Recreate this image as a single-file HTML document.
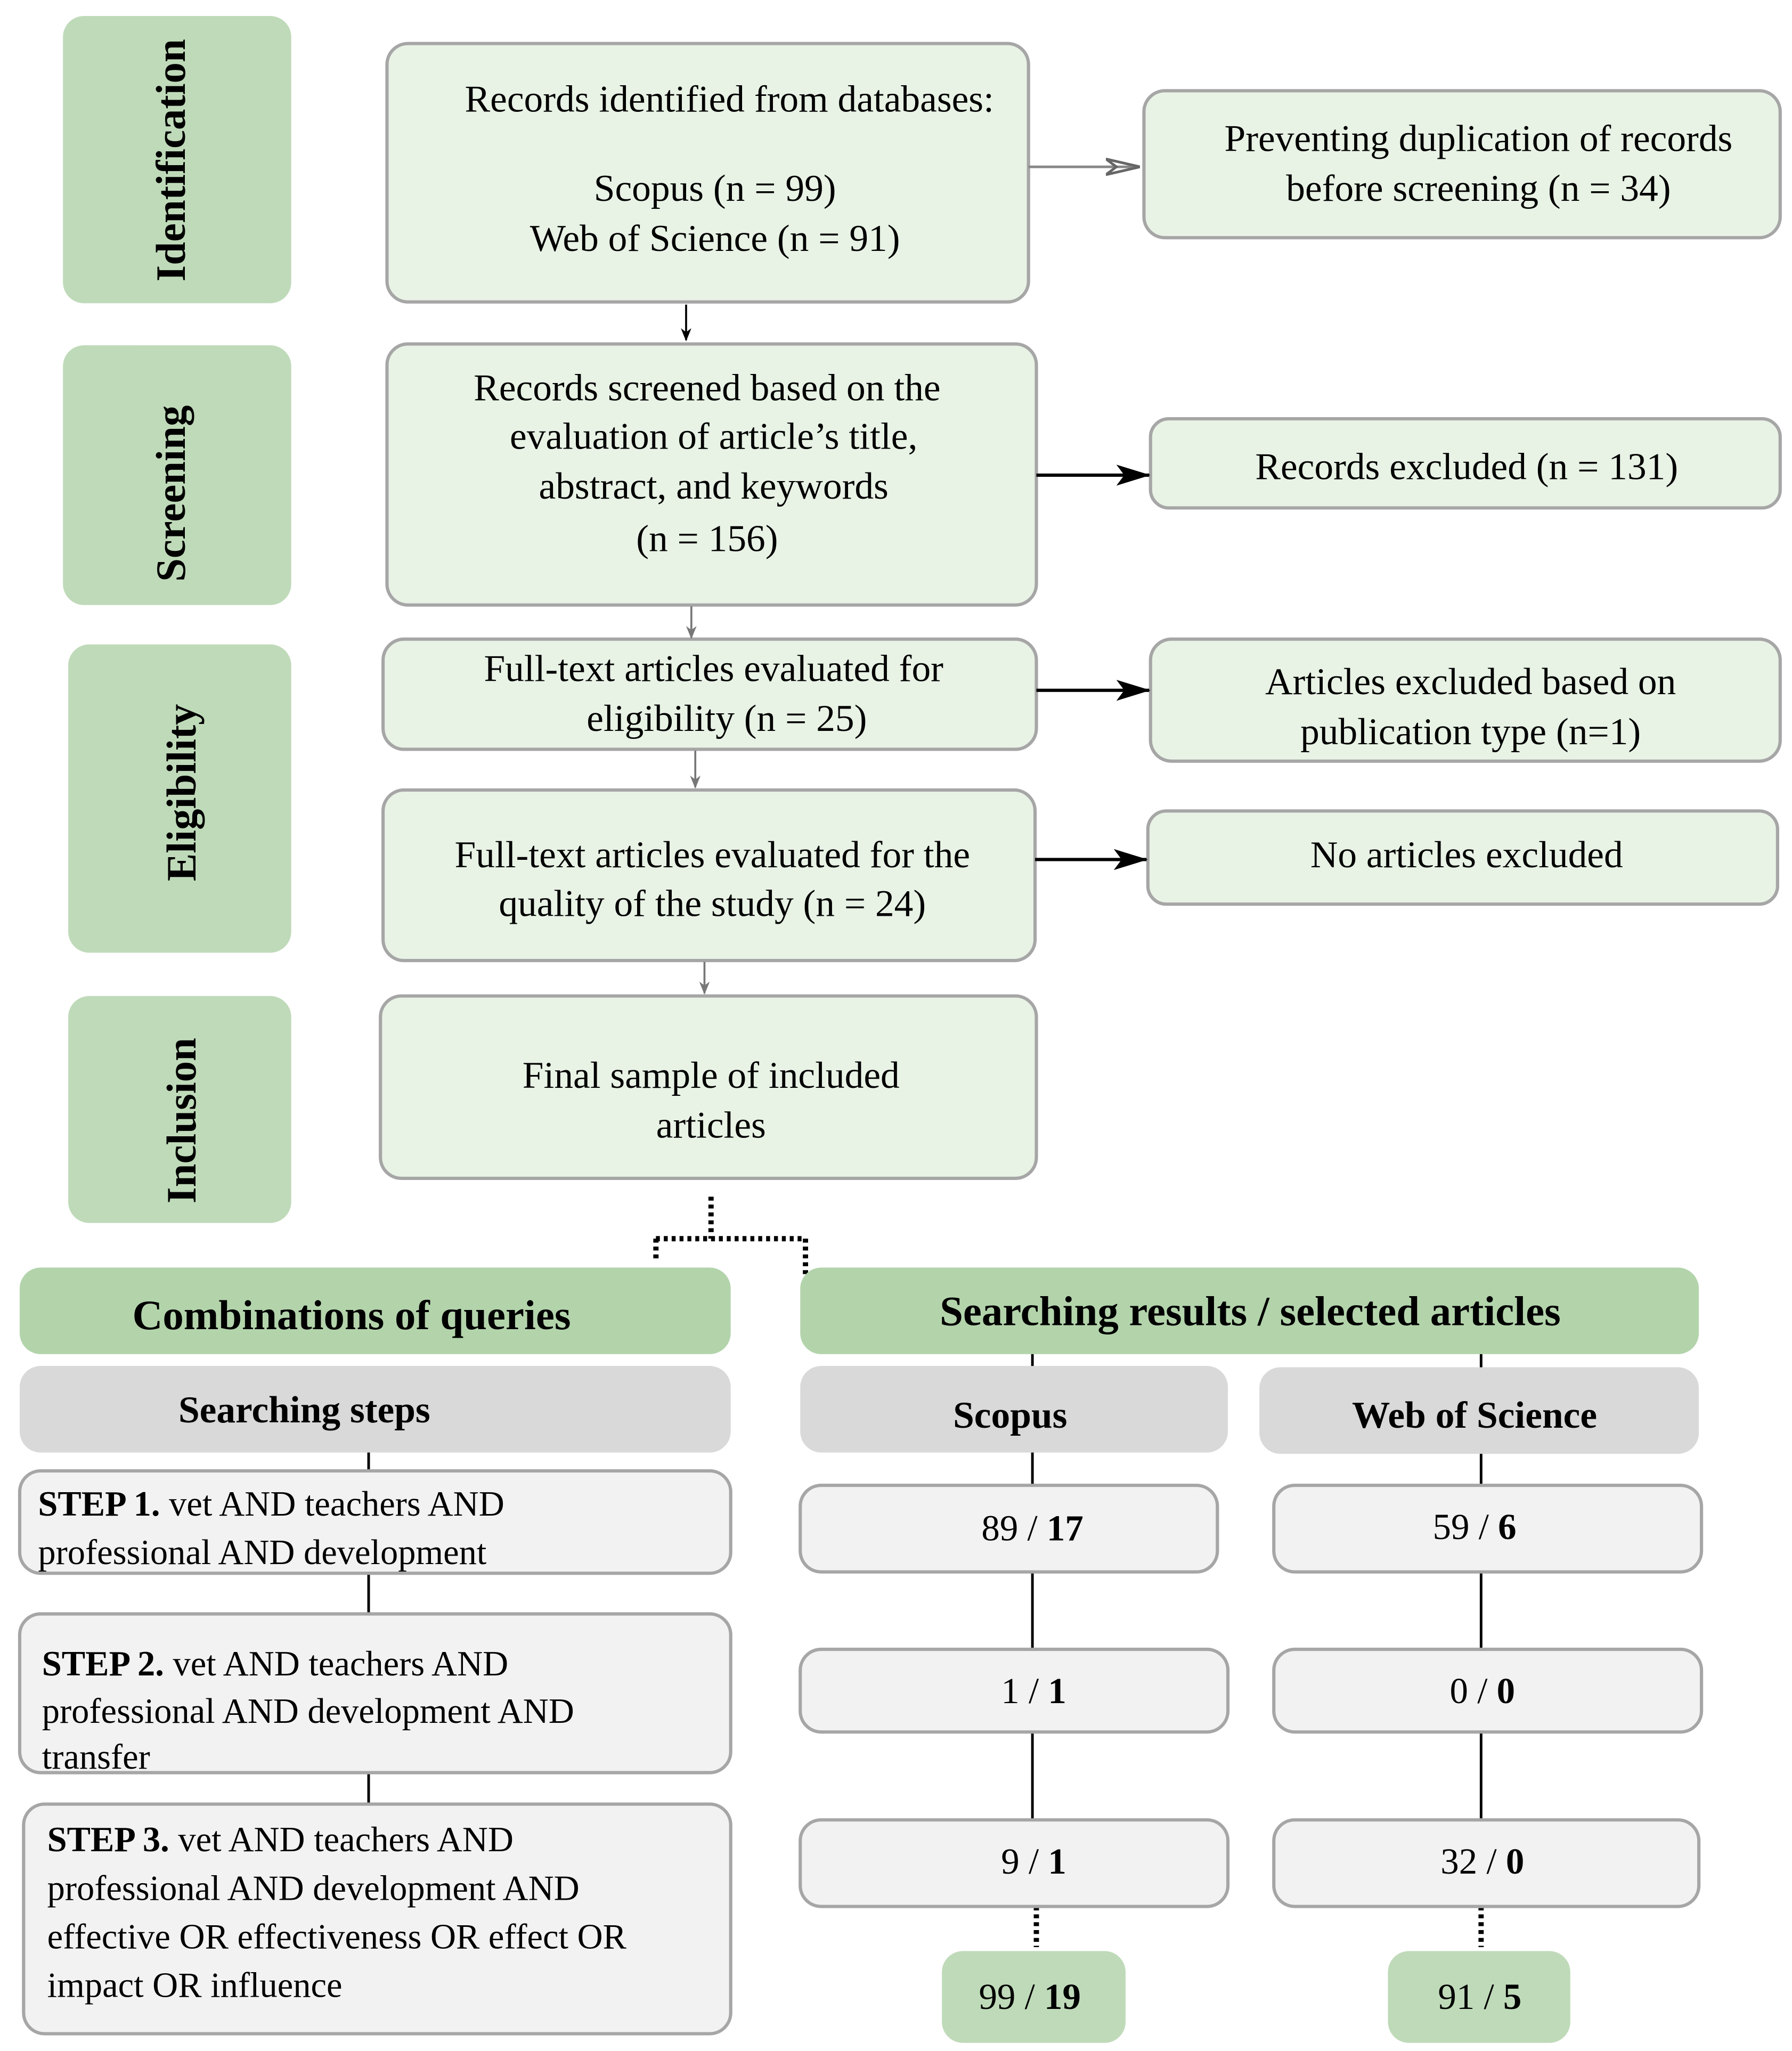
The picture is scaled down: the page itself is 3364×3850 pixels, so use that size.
<!DOCTYPE html>
<html><head><meta charset="utf-8"><style>
html,body{margin:0;padding:0;background:#fff}
svg{display:block}
text{font-family:"Liberation Serif",serif;fill:#000}
</style></head><body>
<svg width="3364" height="3850" viewBox="0 0 1366 1563" xmlns="http://www.w3.org/2000/svg">
<defs>
<marker id="ab" markerWidth="10" markerHeight="10" refX="9" refY="5" orient="auto" markerUnits="userSpaceOnUse"><path d="M0,1 L10,5 L0,9 L3,5 Z" fill="#000"/></marker>
<marker id="abig" markerWidth="26" markerHeight="16" refX="25" refY="8" orient="auto" markerUnits="userSpaceOnUse"><path d="M0,0 L26,8 L0,16 L6,8 Z" fill="#000"/></marker>
<marker id="ag" markerWidth="10" markerHeight="10" refX="9" refY="5" orient="auto" markerUnits="userSpaceOnUse"><path d="M0,1 L10,5 L0,9 L3,5 Z" fill="#777"/></marker>
<marker id="agbig" markerWidth="26" markerHeight="16" refX="25" refY="8" orient="auto" markerUnits="userSpaceOnUse"><path d="M0,2 L26,8 L0,14 L8,8 Z" fill="none" stroke="#666" stroke-width="2"/></marker>
</defs>
<g fill="#bfdab9">
<rect x="48" y="12" width="174" height="219" rx="16"/>
<rect x="48" y="263" width="174" height="198" rx="16"/>
<rect x="52" y="491" width="170" height="235" rx="16"/>
<rect x="52" y="759" width="170" height="173" rx="16"/>
</g>
<g font-weight="bold" font-size="32" text-anchor="middle">
<text transform="translate(141,122) rotate(-90)">Identification</text>
<text transform="translate(141,376) rotate(-90)">Screening</text>
<text transform="translate(149,604) rotate(-90)">Eligibility</text>
<text transform="translate(149,854) rotate(-90)">Inclusion</text>
</g>
<g fill="#e8f2e5" stroke="#a6a6a6" stroke-width="2.5">
<rect x="295" y="33" width="489" height="197" rx="16"/>
<rect x="872" y="69" width="485" height="112" rx="16"/>
<rect x="295" y="262" width="495" height="199" rx="16"/>
<rect x="877" y="319" width="480" height="68" rx="14"/>
<rect x="292" y="487" width="498" height="84" rx="16"/>
<rect x="877" y="487" width="480" height="93" rx="16"/>
<rect x="292" y="602" width="497" height="130" rx="16"/>
<rect x="875" y="618" width="480" height="71" rx="14"/>
<rect x="290" y="759" width="500" height="139" rx="16"/>
</g>
<g font-size="29" text-anchor="middle">
<text x="556" y="85">Records identified from databases:</text>
<text x="545" y="153">Scopus (n = 99)</text>
<text x="545" y="191">Web of Science (n = 91)</text>
<text x="1127" y="115">Preventing duplication of records</text>
<text x="1127" y="153">before screening (n = 34)</text>
<text x="539" y="305">Records screened based on the</text>
<text x="544" y="342">evaluation of article’s title,</text>
<text x="544" y="380">abstract, and keywords</text>
<text x="539" y="420">(n = 156)</text>
<text x="1118" y="365">Records excluded (n = 131)</text>
<text x="544" y="519">Full-text articles evaluated for</text>
<text x="554" y="557">eligibility (n = 25)</text>
<text x="1121" y="529">Articles excluded based on</text>
<text x="1121" y="567">publication type (n=1)</text>
<text x="543" y="661">Full-text articles evaluated for the</text>
<text x="543" y="698">quality of the study (n = 24)</text>
<text x="1118" y="661">No articles excluded</text>
<text x="542" y="829">Final sample of included</text>
<text x="542" y="867">articles</text>
</g>
<line x1="784" y1="127" x2="868" y2="127" stroke="#888" stroke-width="2" marker-end="url(#agbig)"/>
<line x1="523" y1="232" x2="523" y2="259" stroke="#000" stroke-width="1.5" marker-end="url(#ab)"/>
<line x1="790" y1="362" x2="876" y2="362" stroke="#000" stroke-width="2.5" marker-end="url(#abig)"/>
<line x1="527" y1="462" x2="527" y2="486" stroke="#777" stroke-width="1.5" marker-end="url(#ag)"/>
<line x1="790" y1="526" x2="876" y2="526" stroke="#000" stroke-width="2.5" marker-end="url(#abig)"/>
<line x1="530" y1="572" x2="530" y2="600" stroke="#777" stroke-width="1.5" marker-end="url(#ag)"/>
<line x1="789" y1="655" x2="874" y2="655" stroke="#000" stroke-width="2.5" marker-end="url(#abig)"/>
<line x1="537" y1="733" x2="537" y2="757" stroke="#777" stroke-width="1.5" marker-end="url(#ag)"/>
<path d="M542,912 V944 M500,944 H614 M500,944 V962 M614,944 V972" stroke="#000" stroke-width="4" stroke-dasharray="3,3" fill="none"/>
<g fill="#b3d4ab">
<rect x="15" y="966" width="542" height="66" rx="16"/>
<rect x="610" y="966" width="685" height="66" rx="16"/>
</g>
<g fill="#d9d9d9">
<rect x="15" y="1041" width="542" height="66" rx="16"/>
<rect x="610" y="1041" width="326" height="66" rx="16"/>
<rect x="960" y="1042" width="335" height="66" rx="16"/>
</g>
<g font-weight="bold" text-anchor="middle">
<text x="268" y="1013" font-size="32">Combinations of queries</text>
<text x="953" y="1010" font-size="32">Searching results / selected articles</text>
<text x="232" y="1084" font-size="29">Searching steps</text>
<text x="770" y="1088" font-size="29">Scopus</text>
<text x="1124" y="1088" font-size="29">Web of Science</text>
</g>
<g stroke="#000" stroke-width="2">
<line x1="281" y1="1107" x2="281" y2="1121"/>
<line x1="281" y1="1199" x2="281" y2="1230"/>
<line x1="281" y1="1351" x2="281" y2="1375"/>
<line x1="787" y1="1032" x2="787" y2="1041"/>
<line x1="787" y1="1107" x2="787" y2="1387"/>
<line x1="1129" y1="1032" x2="1129" y2="1042"/>
<line x1="1129" y1="1108" x2="1129" y2="1387"/>
</g>
<g stroke="#000" stroke-width="4" stroke-dasharray="3,3">
<line x1="790" y1="1453" x2="790" y2="1484"/>
<line x1="1129" y1="1453" x2="1129" y2="1484"/>
</g>
<g fill="#f2f2f2" stroke="#a6a6a6" stroke-width="2.5">
<rect x="15" y="1121" width="542" height="78" rx="16"/>
<rect x="15" y="1230" width="542" height="121" rx="16"/>
<rect x="18" y="1375" width="539" height="175" rx="16"/>
<rect x="610" y="1132" width="318" height="66" rx="16"/>
<rect x="610" y="1257" width="326" height="63" rx="16"/>
<rect x="610" y="1387" width="326" height="66" rx="16"/>
<rect x="971" y="1132" width="326" height="66" rx="16"/>
<rect x="971" y="1257" width="326" height="63" rx="16"/>
<rect x="971" y="1387" width="324" height="66" rx="16"/>
</g>
<g fill="#bfdab9">
<rect x="718" y="1487" width="140" height="70" rx="16"/>
<rect x="1058" y="1487" width="139" height="70" rx="16"/>
</g>
<g font-size="27">
<text x="29" y="1155"><tspan font-weight="bold">STEP 1.</tspan> vet AND teachers AND</text>
<text x="29" y="1192">professional AND development</text>
<text x="32" y="1277"><tspan font-weight="bold">STEP 2.</tspan> vet AND teachers AND</text>
<text x="32" y="1313">professional AND development AND</text>
<text x="32" y="1348">transfer</text>
<text x="36" y="1411"><tspan font-weight="bold">STEP 3.</tspan> vet AND teachers AND</text>
<text x="36" y="1448">professional AND development AND</text>
<text x="36" y="1485">effective OR effectiveness OR effect OR</text>
<text x="36" y="1522">impact OR influence</text>
</g>
<g font-size="28" text-anchor="middle">
<text x="787" y="1174">89 / <tspan font-weight="bold">17</tspan></text>
<text x="788" y="1298">1 / <tspan font-weight="bold">1</tspan></text>
<text x="788" y="1428">9 / <tspan font-weight="bold">1</tspan></text>
<text x="1124" y="1173">59 / <tspan font-weight="bold">6</tspan></text>
<text x="1130" y="1298">0 / <tspan font-weight="bold">0</tspan></text>
<text x="1130" y="1428">32 / <tspan font-weight="bold">0</tspan></text>
<text x="785" y="1531">99 / <tspan font-weight="bold">19</tspan></text>
<text x="1128" y="1531">91 / <tspan font-weight="bold">5</tspan></text>
</g>
</svg>
</body></html>
